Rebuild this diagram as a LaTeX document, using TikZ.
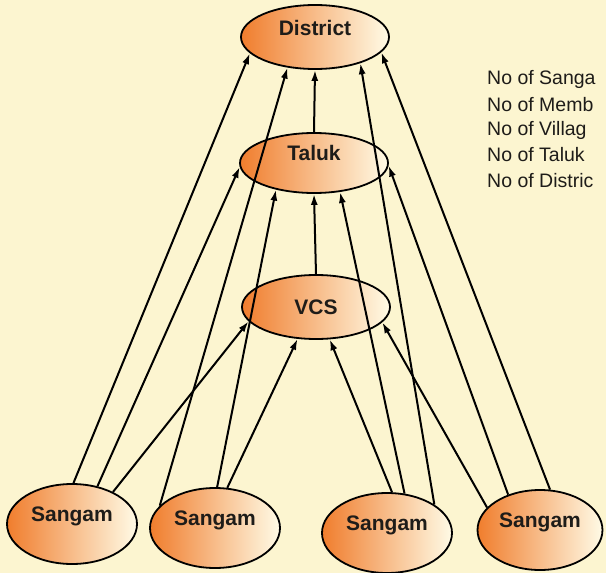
\documentclass[tikz,border=0pt]{standalone}
\usepackage{fontspec}
\setmainfont{Liberation Sans}
\usetikzlibrary{arrows.meta,shapes.geometric}
\definecolor{bgcream}{RGB}{252,245,208}
\definecolor{deeporange}{RGB}{240,125,45}
\definecolor{paleorange}{RGB}{249,200,140}
\definecolor{palecream}{RGB}{255,251,230}
\definecolor{inktext}{RGB}{30,28,25}
\tikzstyle{level} = [ellipse, draw=black, line width=1.8pt, left color=deeporange, middle color=paleorange, right color=palecream, minimum width=148pt, minimum height=64pt, text=inktext, font=\bfseries\fontsize{21}{24}\selectfont]
\tikzstyle{sangam} = [level, minimum width=130pt, minimum height=80pt, text depth=20pt]
\tikzstyle{link} = [line width=2pt, -{Latex[length=11pt,width=7pt]}]
\tikzstyle{count} = [anchor=west, inner sep=0pt, text=inktext, font=\fontsize{19.5}{22}\selectfont]

\begin{document}
\begin{tikzpicture}[x=1pt, y=-1pt]
 \fill [bgcream] (0,0) rectangle (606,573);
 \useasboundingbox (0,0) rectangle (606,573);

 % levels
 \node (district) [level, text depth=18pt] at (315,37) {District};
 \node (taluk) [level, minimum height=60pt, text depth=20pt] at (314,163) {Taluk};
 \node (vcs) [level] at (316,307) {VCS};

 % sangams
 \node (s1) [sangam] at (72,524) {Sangam};
 \node (s2) [sangam] at (215,528) {Sangam};
 \node (s3) [sangam] at (387,533) {Sangam};
 \node (s4) [sangam, minimum width=120pt] at (540,530) {Sangam};

 % counts
 \node (nsang) [count] at (487,79) {No of Sanga};
 \node (nmemb) [count] at (487,105) {No of Memb};
 \node (nvill) [count] at (487,130) {No of Villag};
 \node (ntal) [count] at (487,155) {No of Taluk};
 \node (ndist) [count] at (487,181) {No of Distric};

 % links
 \draw [link] (taluk.90) -- (district.270);
 \draw [link] (vcs.90) -- (taluk.270);

 \draw [link] (s1.88) -- (district.194);
 \draw [link] (s1.56) -- (taluk.183);
 \draw [link] (s1.38) -- (vcs.192);

 \draw [link] (s2.158) -- (district.228);
 \draw [link] (s2.87) -- (taluk.215);
 \draw [link] (s2.73) -- (vcs.240);

 \draw [link] (s3.31) -- (district.330);
 \draw [link] (s3.66) -- (taluk.312);
 \draw [link] (s3.83) -- (vcs.293);

 \draw [link] (s4.76) -- (district.347);
 \draw [link] (s4.132) -- (taluk.358);
 \draw [link] (s4.157) -- (vcs.347);
\end{tikzpicture}
\end{document}
